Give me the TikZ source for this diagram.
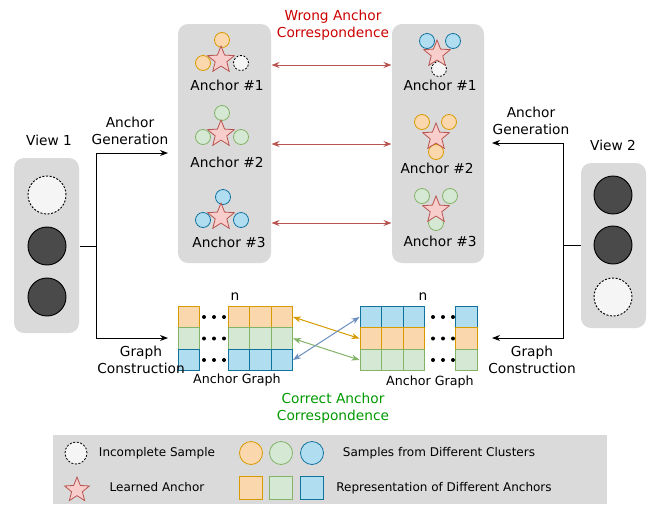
\documentclass[tikz,border=0pt]{standalone}
\usepackage{fontspec}
\setmainfont{DejaVu Sans}
\usetikzlibrary{arrows.meta,shapes.geometric}

\definecolor{grayBg}{HTML}{DADADA}
\definecolor{darkC}{HTML}{4A4A4A}
\definecolor{misF}{HTML}{F5F5F5}
\definecolor{orgF}{HTML}{FAD7AC}
\definecolor{orgD}{HTML}{D79B00}
\definecolor{grnF}{HTML}{D5E8D4}
\definecolor{grnD}{HTML}{82B366}
\definecolor{bluF}{HTML}{B1DDF0}
\definecolor{bluD}{HTML}{10739E}
\definecolor{ancF}{HTML}{F8CECC}
\definecolor{ancD}{HTML}{B85450}
\definecolor{wrongC}{HTML}{CC0000}
\definecolor{rightC}{HTML}{009900}
\definecolor{bluA}{HTML}{6C8EBF}

\begin{document}
\begin{tikzpicture}[x=0.75pt,y=-0.75pt,>={Stealth[length=6pt,width=4.5pt]},line width=0.75pt,
  box/.style={fill=grayBg,rounded corners=7.5pt,inner sep=0pt},
  smp/.style={circle,draw,inner sep=0pt,minimum size=11.25pt,line width=0.6pt},
  org/.style={smp,fill=orgF,draw=orgD},
  grn/.style={smp,fill=grnF,draw=grnD},
  blu/.style={smp,fill=bluF,draw=bluD},
  mis/.style={smp,fill=misF,draw=black,dash pattern=on 1.5pt off 1.2pt},
  anc/.style={star,star points=5,star point ratio=2.3,fill=ancF,draw=ancD,minimum size=21pt,inner sep=0pt,line width=0.6pt},
  big/.style={circle,draw=black,fill=darkC,minimum size=28.5pt,inner sep=0pt,line width=0.7pt},
  bigmis/.style={big,fill=misF,dash pattern=on 1.5pt off 1.2pt},
  cell/.style={draw,minimum size=16.125pt,inner sep=0pt,line width=0.75pt},
  co/.style={cell,fill=orgF,draw=orgD},
  cg/.style={cell,fill=grnF,draw=grnD},
  cb/.style={cell,fill=bluF,draw=bluD},
  lbl/.style={font=\fontsize{10.3}{12.75}\selectfont,align=center,inner sep=0pt},
  leg/.style={font=\fontsize{9}{11}\selectfont,inner sep=0pt},
  wr/.style={<->,draw=ancD}]
\useasboundingbox (0,0) rectangle (649,504);

\node[box,minimum width=48.75pt,minimum height=131.25pt] (v1) at (46.5,245.5) {};
\node[bigmis] (v1a) at (47,195) {};
\node[big] (v1b) at (47,246) {};
\node[big] (v1c) at (47,297) {};
\node[lbl] (v1t) at (49,140) {View 1};

\node[box,minimum width=48.75pt,minimum height=123.75pt] (v2) at (613.5,245.5) {};
\node[big] (v2a) at (613,195) {};
\node[big] (v2b) at (613,245) {};
\node[bigmis] (v2c) at (613,297) {};
\node[lbl] (v2t) at (613,145) {View 2};

\node[box,minimum width=69.75pt,minimum height=179.25pt] (ab1) at (224.5,143.5) {};
\node[box,minimum width=69pt,minimum height=179.25pt] (ab2) at (438,143.5) {};

\node[org] (p11) at (222,40) {};
\node[org] (p12) at (203,63) {};
\node[mis] (p13) at (241,63) {};
\node[anc] (s1) at (221,60) {};
\node[lbl] (t1) at (227,85) {Anchor \#1};
\node[grn] (p21) at (222,113) {};
\node[grn] (p22) at (203,137) {};
\node[grn] (p23) at (241,137) {};
\node[anc] (s2) at (221,134) {};
\node[lbl] (t2) at (227,162) {Anchor \#2};
\node[blu] (p31) at (223,197) {};
\node[blu] (p32) at (203,220) {};
\node[blu] (p33) at (241,220) {};
\node[anc] (s3) at (221,217) {};
\node[lbl] (t3) at (229,242) {Anchor \#3};

\node[blu] (q11) at (427,41) {};
\node[blu] (q12) at (453,41) {};
\node[mis] (q13) at (439,69) {};
\node[anc] (r1) at (437,54) {};
\node[lbl] (u1) at (440,85) {Anchor \#1};
\node[org] (q21) at (422,122) {};
\node[org] (q22) at (449,122) {};
\node[org] (q23) at (436,152) {};
\node[anc] (r2) at (436,137) {};
\node[lbl] (u2) at (437,168) {Anchor \#2};
\node[grn] (q31) at (422,196) {};
\node[grn] (q32) at (450,196) {};
\node[grn] (q33) at (436,223) {};
\node[anc] (r3) at (436,210) {};
\node[lbl] (u3) at (440,241) {Anchor \#3};

\node[lbl,text=wrongC] (wt) at (333,25.5) {Wrong Anchor\\Correspondence};
\draw[wr] (ab1.east |- 0,65) -- (ab2.west |- 0,65);
\draw[wr] (ab1.east |- 0,144) -- (ab2.west |- 0,144);
\draw[wr] (ab1.east |- 0,223) -- (ab2.west |- 0,223);

\node[co] (a1) at (189,317) {};
\node[cg] (a2) at (189,338.5) {};
\node[cb] (a3) at (189,360) {};
\foreach \c/\x in {1/238.75,2/260.25,3/281.75} {
  \node[co] (L1\c) at (\x,317) {};
  \node[cg] (L2\c) at (\x,338.5) {};
  \node[cb] (L3\c) at (\x,360) {};
}
\foreach \c/\x in {1/370.75,2/392.25,3/413.75} {
  \node[cb] (R1\c) at (\x,317) {};
  \node[co] (R2\c) at (\x,338.5) {};
  \node[cg] (R3\c) at (\x,360) {};
}
\node[cb] (b1) at (466.5,317) {};
\node[co] (b2) at (466.5,338.5) {};
\node[cg] (b3) at (466.5,360) {};
\foreach \y in {317,338.5,360} {
  \foreach \x in {204,214,224,433,443,453}
    \fill (\x,\y) circle (1.5pt);
}
\node[lbl] (n1) at (235,297) {n};
\node[lbl] (n2) at (423,297) {n};
\node[lbl,font=\fontsize{9.5}{11}\selectfont] (g1) at (237,380) {Anchor Graph};
\node[lbl,font=\fontsize{9.5}{11}\selectfont] (g2) at (430,382) {Anchor Graph};

\draw[<->,draw=orgD] (L13.east) -- (R21.west);
\draw[<->,draw=grnD] (L23.east) -- (R31.west);
\draw[<->,draw=bluA] (L33.east) -- (R11.west);
\node[lbl,text=rightC] (ct) at (333,408.5) {Correct Anchor\\Correspondence};

\coordinate (j1) at (96,246);
\coordinate (e1) at (168,153);
\coordinate (f1) at (168,338);
\draw (v1.east |- j1) -- (j1);
\draw[->] (j1) |- (e1);
\draw[->] (j1) |- (f1);
\node[lbl] (ag1) at (130,131) {Anchor\\Generation};
\node[lbl] (gc1) at (141,359.5) {Graph\\Construction};

\coordinate (j2) at (563,245.5);
\coordinate (e2) at (492,143);
\coordinate (f2) at (492,338);
\draw (v2.west |- j2) -- (j2);
\draw[->] (j2) |- (e2);
\draw[->] (j2) |- (f2);
\node[lbl] (ag2) at (531,121) {Anchor\\Generation};
\node[lbl] (gc2) at (532,359.5) {Graph\\Construction};

\node[fill=grayBg,minimum width=415.5pt,minimum height=51.75pt,inner sep=0pt] (lg) at (330,469.5) {};
\node[mis,minimum size=16.5pt] (k1) at (76,453) {};
\node[leg] (k1t) at (157,453) {Incomplete Sample};
\node[anc,minimum size=19.5pt] (k2) at (77,490) {};
\node[leg] (k2t) at (157,487) {Learned Anchor};
\node[org,minimum size=17.25pt] (k3) at (251,453) {};
\node[grn,minimum size=17.25pt] (k4) at (281,453) {};
\node[blu,minimum size=17.25pt] (k5) at (312,453) {};
\node[leg] (k5t) at (439,453) {Samples from Different Clusters};
\node[co,minimum size=17.25pt] (k6) at (251,488) {};
\node[cg,minimum size=17.25pt] (k7) at (281,488) {};
\node[cb,minimum size=17.25pt] (k8) at (312,488) {};
\node[leg] (k8t) at (444,488) {Representation of Different Anchors};
\end{tikzpicture}
\end{document}
